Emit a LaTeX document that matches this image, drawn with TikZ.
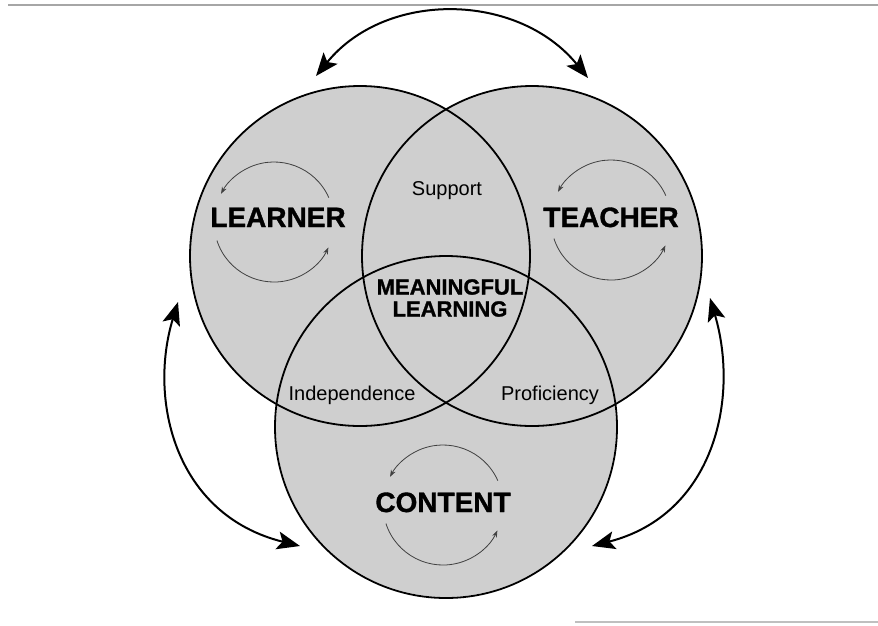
\documentclass[tikz,border=0pt]{standalone}
\usepackage{fontspec}
\setmainfont{Liberation Sans}
\newfontfamily\heavyfont[FakeBold=1.2]{Liberation Sans Bold}
\usetikzlibrary{arrows.meta,positioning,calc}

\begin{document}
\begin{tikzpicture}[
    x=1pt, y=-1pt,
    venn_disc/.style={circle, fill=gray!38, minimum size=340pt, inner sep=0pt},
    venn_rim/.style={line width=1.8pt},
    big_label/.style={font=\fontsize{28}{30}\selectfont\heavyfont, anchor=base},
    mid_label/.style={font=\fontsize{20}{24}\selectfont, anchor=base},
    core_label/.style={font=\fontsize{22}{22}\selectfont\heavyfont, align=center},
    link_arrow/.style={{Stealth[length=23pt,width=18pt,inset=5pt]}-{Stealth[length=23pt,width=18pt,inset=5pt]}, line width=2pt},
    cycle_arrow/.style={-{Stealth[length=7pt,width=5pt]}, line width=0.8pt, black!75},
    page_rule/.style={line width=2pt, gray!70}
]
\useasboundingbox (0,0) rectangle (878,625);

% --- CIRCLES ---
\node[venn_disc] (learner) at (360,256) {};
\node[venn_disc] (teacher) at (532,256) {};
\node[venn_disc] (content) at (446,427) {};
\draw[venn_rim] (learner) circle[radius=170];
\draw[venn_rim] (teacher) circle[radius=170];
\draw[venn_rim] (content) circle[radius=171];

% --- LABELS ---
\node[big_label] (learner_lbl) at (278,227) {LEARNER};
\node[big_label] (teacher_lbl) at (611,227) {TEACHER};
\node[big_label] (content_lbl) at (443,512) {CONTENT};
\node[core_label] (core) at (450,298) {MEANINGFUL\\LEARNING};
\node[mid_label] (support) at (447,195) {Support};
\node[mid_label] (indep) at (352,400) {Independence};
\node[mid_label] (profic) at (550,400) {Proficiency};

% --- INNER CYCLES ---
\coordinate (lcyc) at (274,222);
\coordinate (tcyc) at (611,220);
\coordinate (ccyc) at (443,505);
\foreach \c in {lcyc,tcyc,ccyc}{
  \draw[cycle_arrow] ([shift={(-24:60)}]\c) arc[start angle=-24, end angle=-152, radius=60];
  \draw[cycle_arrow] ([shift={(162:60)}]\c) arc[start angle=162, end angle=25, radius=60];
}

% --- LINKS ---
\coordinate (top_l) at (316,76);
\coordinate (top_r) at (588,78);
\coordinate (lft_t) at (178,302);
\coordinate (lft_b) at (300,546);
\coordinate (rgt_t) at (710,298);
\coordinate (rgt_b) at (592,546);
\draw[link_arrow] (top_l) .. controls (386,-10) and (518,-8) .. (top_r);
\draw[link_arrow] (lft_t) .. controls (148,400) and (175,515) .. (lft_b);
\draw[link_arrow] (rgt_t) .. controls (740,400) and (713,515) .. (rgt_b);

% page rules
\coordinate (rule_a) at (8,5);
\coordinate (rule_b) at (878,5);
\coordinate (rule_c) at (575,622);
\coordinate (rule_d) at (878,622);
\draw[page_rule] (rule_a) -- (rule_b);
\draw[page_rule, line width=1.5pt, gray!50] (rule_c) -- (rule_d);

\end{tikzpicture}
\end{document}
